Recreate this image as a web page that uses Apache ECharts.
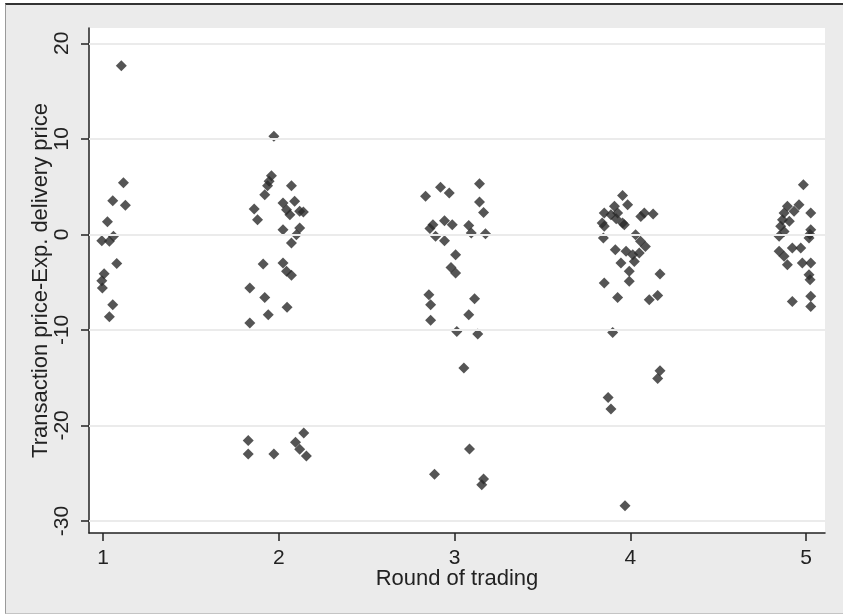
<!DOCTYPE html>
<html>
<head>
<meta charset="utf-8">
<script src="https://cdn.jsdelivr.net/npm/echarts@6/dist/echarts.min.js"></script>
<style>
  html, body { margin: 0; padding: 0; background: #ffffff; }
  #frame { position: absolute; left: 5px; top: 3px; width: 838px; height: 611px;
           background: #ebebeb; border-top: 2px solid #333; border-left: 1px solid #9a9a9a;
           border-bottom: 1px solid #c4c4c4; box-sizing: border-box; }
  #chart { position: absolute; left: 0; top: 0; width: 843px; height: 616px; }
</style>
</head>
<body>
<div id="frame"></div>
<div id="chart"></div>
<script>
// Tick values
const xTicks = [1, 2, 3, 4, 5];
const yTicks = [-30, -20, -10, 0, 10, 20];

// [jittered round, transaction price - expected delivery price]
const round1 = [
  [1.104, 17.66], [1.116, 5.41], [1.055, 3.53], [1.127, 3.04], [1.025, 1.33],
  [0.993, -0.66], [1.036, -0.73], [1.059, -0.21], [1.078, -3.04], [1.006, -4.12],
  [0.993, -4.85], [0.996, -5.62], [1.055, -7.36], [1.036, -8.62]
];
const round2 = [
  [1.972, 10.26], [1.958, 6.14], [1.945, 5.55], [1.936, 5.1], [1.92, 4.15],
  [2.072, 5.1], [1.86, 2.65], [1.879, 1.53], [2.024, 3.28], [2.09, 3.46],
  [2.044, 2.58], [2.063, 2.06], [2.119, 2.41], [2.14, 2.35], [2.024, 0.49],
  [2.119, 0.66], [2.1, -0.03], [2.072, -0.91], [1.911, -3.11], [2.024, -3.0],
  [2.044, -3.87], [2.072, -4.29], [1.835, -5.62], [1.92, -6.6], [2.047, -7.64],
  [1.94, -8.41], [1.835, -9.29],
  [1.826, -21.57], [1.826, -23.0], [1.972, -23.0], [2.142, -20.8], [2.095, -21.75],
  [2.119, -22.5], [2.157, -23.2]
];
const round3 = [
  [2.835, 3.98], [2.92, 4.92], [2.97, 4.33], [3.142, 5.31], [3.142, 3.38],
  [3.165, 2.3], [2.877, 1.01], [2.86, 0.6], [2.943, 1.43], [2.987, 1.01], [3.081, 0.94],
  [3.095, 0.14], [3.176, 0.07], [2.892, -0.21], [2.943, -0.66], [3.006, -2.13],
  [2.98, -3.46], [3.006, -4.05], [2.854, -6.31], [2.864, -7.36], [2.864, -9.0],
  [3.114, -6.73], [3.081, -8.41], [3.013, -10.16], [3.132, -10.44],
  [3.053, -14.0], [3.085, -22.48], [2.886, -25.1], [3.165, -25.6], [3.155, -26.2]
];
const round4 = [
  [3.956, 4.08], [3.985, 3.11], [3.91, 2.93], [3.852, 2.23], [3.89, 2.06],
  [3.928, 2.23], [3.84, 1.18], [3.956, 1.18], [3.852, 0.84], [3.92, 1.64],
  [3.966, 1.01], [4.08, 2.23], [4.13, 2.13], [4.06, 1.88], [3.847, -0.38],
  [4.03, -0.03], [4.058, -0.73], [4.086, -1.26], [3.915, -1.6], [3.976, -1.78],
  [4.014, -2.13], [4.051, -1.96], [4.023, -2.83], [3.947, -3.0], [3.994, -3.87],
  [4.169, -4.15], [3.994, -4.92], [3.852, -5.1], [3.928, -6.6], [4.108, -6.84],
  [4.156, -6.39], [3.9, -10.26],
  [4.169, -14.27], [4.156, -15.1], [3.874, -17.07], [3.89, -18.29], [3.97, -28.4]
];
const round5 = [
  [4.985, 5.2], [4.894, 2.93], [4.96, 3.11], [4.932, 2.41], [4.875, 2.23],
  [5.027, 2.23], [4.866, 1.53], [4.905, 1.36], [4.856, 0.84], [4.875, 0.31],
  [5.027, 0.49], [5.017, -0.38], [5.022, 0.0], [4.847, -0.21], [4.847, -1.78],
  [4.922, -1.43], [4.97, -1.43], [4.875, -2.3], [4.894, -3.18], [4.979, -3.0],
  [5.027, -3.0], [5.017, -4.22], [5.023, -4.75], [4.922, -7.02], [5.027, -6.49],
  [5.027, -7.54]
];

const allPoints = [].concat(round1, round2, round3, round4, round5);

const FONT = '"Liberation Sans", Arial, sans-serif';
const chart = echarts.init(document.getElementById('chart'), null, { renderer: 'canvas' });
chart.setOption({
  animation: false,
  backgroundColor: 'transparent',
  grid: {
    left: 89, top: 28, right: 18, bottom: 83,
    show: true, backgroundColor: '#ffffff', borderWidth: 0
  },
  xAxis: {
    type: 'value', min: 0.92, max: 5.108,
    name: 'Round of trading', nameLocation: 'middle', nameGap: 35, nameMoveOverlap: false,
    nameTextStyle: { fontFamily: FONT, fontSize: 22, color: '#222' },
    axisLine: { show: true, onZero: false, lineStyle: { color: '#222', width: 1.5 } },
    axisTick: { show: true, length: 8, customValues: xTicks, lineStyle: { color: '#222', width: 1.5 } },
    axisLabel: { customValues: xTicks, margin: 15, fontFamily: FONT, fontSize: 21, color: '#222' },
    splitLine: { show: false }
  },
  yAxis: {
    type: 'value', min: -31.26, max: 21.6,
    name: 'Transaction price-Exp. delivery price', nameLocation: 'middle', nameGap: 37, nameMoveOverlap: false,
    nameTextStyle: { fontFamily: FONT, fontSize: 22, color: '#222' },
    axisLine: { show: true, onZero: false, lineStyle: { color: '#222', width: 1.5 } },
    axisTick: { show: true, length: 8, customValues: yTicks, lineStyle: { color: '#222', width: 1.5 } },
    axisLabel: { customValues: yTicks, rotate: 90, margin: 16, fontFamily: FONT, fontSize: 21, color: '#222' },
    splitLine: { show: false }
  },
  series: [
    {
      type: 'scatter', z: 1, data: [], silent: true,
      markLine: {
        silent: true, symbol: 'none', animation: false,
        label: { show: false },
        lineStyle: { color: '#ebebeb', width: 2, type: 'solid' },
        emphasis: { disabled: true },
        data: yTicks.map(v => ({ yAxis: v }))
      }
    },
    {
      type: 'scatter', z: 3,
      symbol: 'diamond', symbolSize: 11,
      itemStyle: { color: '#2a2a2a' },
      data: allPoints
    }
  ]
});
</script>
</body>
</html>
